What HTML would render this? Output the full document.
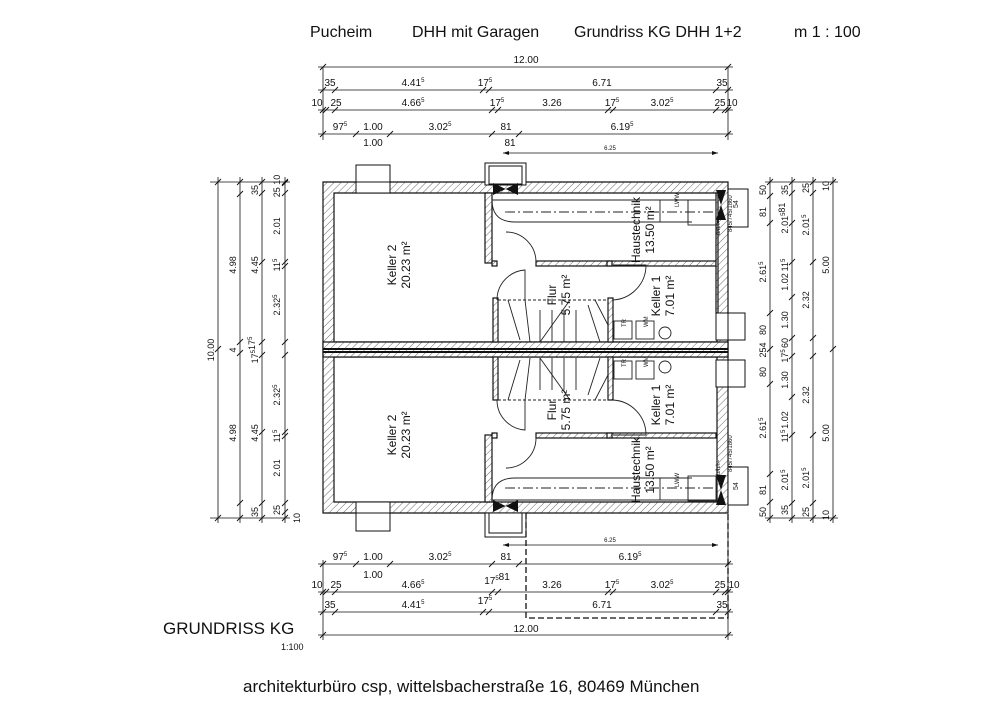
<!DOCTYPE html>
<html><head><meta charset="utf-8"><style>
html,body{margin:0;padding:0;background:#fff;}
svg{display:block;font-family:"Liberation Sans",sans-serif;}
</style></head><body>
<svg width="1000" height="707" viewBox="0 0 1000 707" xmlns="http://www.w3.org/2000/svg">
<defs>
<pattern id="h" width="5" height="5" patternUnits="userSpaceOnUse" patternTransform="rotate(45)">
<rect width="5" height="5" fill="#fff"/><line x1="0" y1="0" x2="0" y2="5" stroke="#444" stroke-width="0.8"/></pattern>
</defs>
<g fill="#111">
<text x="310" y="37" font-size="16">Pucheim</text>
<text x="412" y="37" font-size="16">DHH mit Garagen</text>
<text x="574" y="37" font-size="16">Grundriss KG DHH 1+2</text>
<text x="794" y="37" font-size="16">m 1 : 100</text>
<text x="163" y="634" font-size="17">GRUNDRISS KG</text>
<text x="281" y="650" font-size="9">1:100</text>
<text x="243" y="692" font-size="17">architekturbüro csp, wittelsbacherstraße 16, 80469 München</text>
</g>

<!-- Walls -->
<g stroke="#111" stroke-width="1.2">
<path fill="url(#h)" fill-rule="evenodd" d="M323 182H728V513H323Z M334 193H717V342H334Z M334 357H717V502H334Z"/>
<rect x="323" y="342" width="405" height="15" fill="url(#h)"/>
<line x1="323" y1="349" x2="728" y2="349" stroke-width="2"/>
<line x1="323" y1="352" x2="728" y2="352" stroke-width="2"/>
<rect x="485" y="193" width="7" height="70" fill="url(#h)"/>
<rect x="536" y="261" width="180" height="5" fill="url(#h)"/>
<rect x="493" y="298" width="5" height="44" fill="url(#h)"/>
<rect x="608" y="298" width="5" height="44" fill="url(#h)"/>
<rect x="716" y="193" width="2" height="120" fill="url(#h)"/>
<rect x="485" y="435" width="7" height="67" fill="url(#h)"/>
<rect x="536" y="433" width="180" height="5" fill="url(#h)"/>
<rect x="493" y="357" width="5" height="43" fill="url(#h)"/>
<rect x="608" y="357" width="5" height="43" fill="url(#h)"/>
<rect x="492" y="261" width="5" height="5" fill="url(#h)"/>
<rect x="607" y="261" width="5" height="5" fill="url(#h)"/>
<rect x="492" y="433" width="5" height="5" fill="url(#h)"/>
<rect x="607" y="433" width="5" height="5" fill="url(#h)"/>
</g>

<g stroke="#111" stroke-width="1" fill="#fff">
<rect x="356" y="165" width="34" height="17"/><rect x="356" y="182" width="34" height="11"/>
<rect x="356" y="513" width="34" height="18"/><rect x="356" y="502" width="34" height="11"/>
<rect x="485" y="163" width="41" height="22"/><rect x="489" y="166" width="33" height="18"/>
<rect x="485" y="513" width="41" height="24"/><rect x="489" y="513" width="33" height="20"/>
<rect x="728" y="189" width="20" height="38"/>
<rect x="728" y="467" width="20" height="38"/>
<rect x="718" y="313" width="27" height="27"/><rect x="718" y="360" width="27" height="27"/>
<rect x="716" y="313" width="12" height="27" fill="#fff"/><rect x="716" y="360" width="12" height="27" fill="#fff"/>
</g>
<g fill="#111">
<path d="M493 183 L518 195 L518 183 L493 195Z"/>
<path d="M493 500 L518 512 L518 500 L493 512Z"/>
<path d="M716 475 L726 475 L721 490Z M716 505 L726 505 L721 490Z"/>
<path d="M716 190 L726 190 L721 205Z M716 220 L726 220 L721 205Z"/>
</g>
<g font-size="7" fill="#222"><text x="734" y="212" transform="rotate(-90 734 208)">54</text><text x="734" y="494" transform="rotate(-90 734 490)">54</text></g>

<g stroke="#222" stroke-width="0.9" fill="none">
<path d="M497 300 A30 30 0 0 1 525 270 L525 300"/>
<path d="M497 400 A30 30 0 0 0 525 430 L525 400"/>
<path d="M506 232 A30 30 0 0 1 536 262"/>
<path d="M506 468 A30 30 0 0 0 536 438"/>
<path d="M613 300 A35 35 0 0 0 646 265 L613 265"/>
<path d="M613 400 A35 35 0 0 1 646 435 L613 435"/>
<path d="M492 200 Q492 222 515 222 L692 222"/>
<path d="M492 500 Q492 478 515 478 L692 478"/>
<line x1="492" y1="200" x2="716" y2="200"/><line x1="492" y1="500" x2="716" y2="500"/>
<path d="M505 212 H716" stroke-dasharray="10 3 2 3"/>
<path d="M505 488 H716" stroke-dasharray="10 3 2 3"/>
<rect x="660" y="200" width="28" height="22"/><rect x="688" y="200" width="28" height="25"/>
<rect x="660" y="478" width="28" height="22"/><rect x="688" y="476" width="28" height="25"/>
<rect x="498" y="300" width="110" height="42" stroke-dasharray="3 2"/>
<rect x="498" y="357" width="110" height="43" stroke-dasharray="3 2"/>
<path d="M508 300 L520 340 M525 300 L530 342 M540 310 L540 342 M552 310 L552 342 M564 310 L564 342 M576 310 L576 342 M588 305 L600 342 M595 300 L608 325"/>
<path d="M508 400 L520 360 M525 400 L530 358 M540 390 L540 358 M552 390 L552 358 M564 390 L564 358 M576 390 L576 358 M588 395 L600 358 M595 400 L608 375"/>
<line x1="540" y1="342" x2="570" y2="300"/><line x1="540" y1="358" x2="570" y2="400"/>
<rect x="614" y="321" width="18" height="18"/><rect x="636" y="321" width="18" height="18"/>
<rect x="614" y="361" width="18" height="18"/><rect x="636" y="361" width="18" height="18"/>
<circle cx="665" cy="333" r="6"/><circle cx="665" cy="367" r="6"/>
</g>
<g font-size="6" fill="#222">
<text x="626" y="333" transform="rotate(-90 623 330)">TR</text><text x="648" y="333" transform="rotate(-90 645 330)">WM</text>
<text x="626" y="373" transform="rotate(-90 623 370)">TR</text><text x="648" y="373" transform="rotate(-90 645 370)">WM</text>
<text x="678" y="216" transform="rotate(-90 674 211)">LWW</text><text x="678" y="496" transform="rotate(-90 674 491)">LWW</text>
<text x="710" y="255" transform="rotate(-90 705 240)">b/h/t=</text><text x="718" y="262" transform="rotate(-90 710 240)">845/745/1860</text>
<text x="710" y="495" transform="rotate(-90 705 480)">b/h/t=</text><text x="718" y="502" transform="rotate(-90 710 480)">845/745/1860</text>
</g>

<g font-size="12" fill="#111" text-anchor="middle">
<g transform="translate(396,265) rotate(-90)"><text y="0">Keller 2</text><text y="14">20.23 m²</text></g>
<g transform="translate(396,435) rotate(-90)"><text y="0">Keller 2</text><text y="14">20.23 m²</text></g>
<g transform="translate(556,295) rotate(-90)"><text y="0">Flur</text><text y="14">5.75 m²</text></g>
<g transform="translate(556,410) rotate(-90)"><text y="0">Flur</text><text y="14">5.75 m²</text></g>
<g transform="translate(660,296) rotate(-90)"><text y="0">Keller 1</text><text y="14">7.01 m²</text></g>
<g transform="translate(660,405) rotate(-90)"><text y="0">Keller 1</text><text y="14">7.01 m²</text></g>
<g transform="translate(640,230) rotate(-90)"><text y="0">Haustechnik</text><text y="14">13.50 m²</text></g>
<g transform="translate(640,470) rotate(-90)"><text y="0">Haustechnik</text><text y="14">13.50 m²</text></g>
</g>

<g stroke="#111" stroke-width="0.8" fill="none">
<line x1="318" y1="67" x2="733" y2="67"/><line x1="318" y1="90" x2="733" y2="90"/>
<line x1="318" y1="110" x2="733" y2="110"/><line x1="318" y1="134" x2="733" y2="134"/>
<line x1="323" y1="67" x2="323" y2="140"/><line x1="728" y1="67" x2="728" y2="140"/>
<line x1="318" y1="564" x2="733" y2="564"/><line x1="318" y1="592" x2="733" y2="592"/>
<line x1="318" y1="612" x2="733" y2="612"/><line x1="318" y1="635" x2="733" y2="635"/>
<line x1="323" y1="560" x2="323" y2="640"/><line x1="728" y1="520" x2="728" y2="640"/>
<line x1="503" y1="153" x2="718" y2="153"/><line x1="503" y1="545" x2="718" y2="545"/>
<line x1="218" y1="177" x2="218" y2="523"/><line x1="240" y1="177" x2="240" y2="523"/>
<line x1="262" y1="177" x2="262" y2="523"/><line x1="285" y1="177" x2="285" y2="523"/>
<line x1="210" y1="182" x2="290" y2="182"/><line x1="210" y1="518" x2="290" y2="518"/>
<line x1="770" y1="177" x2="770" y2="523"/><line x1="792" y1="177" x2="792" y2="523"/>
<line x1="813" y1="177" x2="813" y2="523"/><line x1="833" y1="177" x2="833" y2="523"/>
<line x1="765" y1="182" x2="838" y2="182"/><line x1="765" y1="518" x2="838" y2="518"/>
<path d="M526 513 V618 H728 V513" stroke-dasharray="6 3" stroke-width="1.3"/>
</g>
<g fill="#111"><path d="M503 153 l6 -2 v4Z M718 153 l-6 -2 v4Z M503 545 l6 -2 v4Z M718 545 l-6 -2 v4Z"/></g>
<g stroke="#111" stroke-width="0.9">
<path d="M320 70 l6 -6 M725 70 l6 -6 M320 93 l6 -6 M332 93 l6 -6 M480 93 l6 -6 M486 93 l6 -6 M713 93 l6 -6 M725 93 l6 -6
M320 113 l6 -6 M323 113 l6 -6 M332 113 l6 -6 M489 113 l6 -6 M495 113 l6 -6 M605 113 l6 -6 M610 113 l6 -6 M713 113 l6 -6 M722 113 l6 -6 M725 113 l6 -6
M320 137 l6 -6 M353 137 l6 -6 M387 137 l6 -6 M489 137 l6 -6 M516 137 l6 -6 M725 137 l6 -6
M320 567 l6 -6 M353 567 l6 -6 M387 567 l6 -6 M489 567 l6 -6 M516 567 l6 -6 M725 567 l6 -6
M320 595 l6 -6 M323 595 l6 -6 M332 595 l6 -6 M489 595 l6 -6 M495 595 l6 -6 M605 595 l6 -6 M610 595 l6 -6 M713 595 l6 -6 M722 595 l6 -6 M725 595 l6 -6
M320 615 l6 -6 M332 615 l6 -6 M480 615 l6 -6 M486 615 l6 -6 M713 615 l6 -6 M725 615 l6 -6 M320 638 l6 -6 M725 638 l6 -6"/>
<path d="M215 185 l6 -6 M237 185 l6 -6 M259 185 l6 -6 M282 185 l6 -6 M237 197 l6 -6 M259 196 l6 -6 M282 186 l6 -6 M282 196 l6 -6
M259 265 l6 -6 M282 265 l6 -6 M282 269 l6 -6 M237 345 l6 -6 M259 345 l6 -6 M282 345 l6 -6 M215 352 l6 -6 M237 356 l6 -6 M259 358 l6 -6 M282 358 l6 -6
M259 435 l6 -6 M282 435 l6 -6 M282 439 l6 -6 M237 506 l6 -6 M259 506 l6 -6 M282 506 l6 -6 M282 515 l6 -6 M215 521 l6 -6 M237 521 l6 -6 M259 521 l6 -6 M282 521 l6 -6"/>
<path d="M767 185 l6 -6 M789 185 l6 -6 M810 185 l6 -6 M830 185 l6 -6 M767 199 l6 -6 M767 226 l6 -6 M789 196 l6 -6 M810 196 l6 -6 M789 226 l6 -6
M789 265 l6 -6 M810 265 l6 -6 M767 316 l6 -6 M789 300 l6 -6 M789 341 l6 -6 M810 341 l6 -6 M767 352 l6 -6 M830 352 l6 -6 M789 359 l6 -6 M810 359 l6 -6 M767 387 l6 -6 M789 400 l6 -6
M789 438 l6 -6 M810 438 l6 -6 M767 477 l6 -6 M767 505 l6 -6 M789 506 l6 -6 M810 506 l6 -6 M767 521 l6 -6 M789 521 l6 -6 M810 521 l6 -6 M830 521 l6 -6"/>
</g>
<g font-size="10" fill="#111" text-anchor="middle">
<text x="526" y="63">12.00</text>
<text x="330" y="86">35</text><text x="413" y="86">4.41<tspan font-size="6" dy="-4">5</tspan></text><text x="485" y="86">17<tspan font-size="6" dy="-4">5</tspan></text><text x="602" y="86">6.71</text><text x="722" y="86">35</text>
<text x="317" y="106">10</text><text x="336" y="106">25</text><text x="413" y="106">4.66<tspan font-size="6" dy="-4">5</tspan></text><text x="497" y="106">17<tspan font-size="6" dy="-4">5</tspan></text><text x="552" y="106">3.26</text><text x="612" y="106">17<tspan font-size="6" dy="-4">5</tspan></text><text x="662" y="106">3.02<tspan font-size="6" dy="-4">5</tspan></text><text x="720" y="106">25</text><text x="732" y="106">10</text>
<text x="340" y="130">97<tspan font-size="6" dy="-4">5</tspan></text><text x="373" y="130">1.00</text><text x="440" y="130">3.02<tspan font-size="6" dy="-4">5</tspan></text><text x="506" y="130">81</text><text x="622" y="130">6.19<tspan font-size="6" dy="-4">5</tspan></text>
<text x="373" y="146">1.00</text><text x="510" y="146">81</text>
<text x="610" y="150" font-size="6">6.25</text>
<text x="610" y="542" font-size="6">6.25</text>
<text x="340" y="560">97<tspan font-size="6" dy="-4">5</tspan></text><text x="373" y="560">1.00</text><text x="440" y="560">3.02<tspan font-size="6" dy="-4">5</tspan></text><text x="506" y="560">81</text><text x="630" y="560">6.19<tspan font-size="6" dy="-4">5</tspan></text>
<text x="373" y="578">1.00</text>
<text x="317" y="588">10</text><text x="336" y="588">25</text><text x="413" y="588">4.66<tspan font-size="6" dy="-4">5</tspan></text><text x="497" y="584">17<tspan font-size="6" dy="-4">5</tspan>81</text><text x="552" y="588">3.26</text><text x="612" y="588">17<tspan font-size="6" dy="-4">5</tspan></text><text x="662" y="588">3.02<tspan font-size="6" dy="-4">5</tspan></text><text x="720" y="588">25</text><text x="734" y="588">10</text>
<text x="330" y="608">35</text><text x="413" y="608">4.41<tspan font-size="6" dy="-4">5</tspan></text><text x="485" y="604">17<tspan font-size="6" dy="-4">5</tspan></text><text x="602" y="608">6.71</text><text x="722" y="608">35</text>
<text x="526" y="632">12.00</text>
</g>
<g font-size="9" fill="#111" text-anchor="middle">
<text transform="translate(214,350) rotate(-90)">10.00</text>
<text transform="translate(236,265) rotate(-90)">4.98</text><text transform="translate(236,433) rotate(-90)">4.98</text>
<text transform="translate(236,350) rotate(-90)">4</text>
<text transform="translate(258,190) rotate(-90)">35</text><text transform="translate(258,265) rotate(-90)">4.45</text><text transform="translate(258,350) rotate(-90)">17<tspan font-size="6" dy="-3">5</tspan>17<tspan font-size="6" dy="-3">5</tspan></text><text transform="translate(258,433) rotate(-90)">4.45</text><text transform="translate(258,512) rotate(-90)">35</text>
<text transform="translate(280,186) rotate(-90)">25 10</text><text transform="translate(280,226) rotate(-90)">2.01</text><text transform="translate(280,265) rotate(-90)">11<tspan font-size="6" dy="-3">5</tspan></text><text transform="translate(280,305) rotate(-90)">2.32<tspan font-size="6" dy="-3">5</tspan></text><text transform="translate(280,395) rotate(-90)">2.32<tspan font-size="6" dy="-3">5</tspan></text><text transform="translate(280,436) rotate(-90)">11<tspan font-size="6" dy="-3">5</tspan></text><text transform="translate(280,468) rotate(-90)">2.01</text><text transform="translate(280,510) rotate(-90)">25</text>
<text transform="translate(300,518) rotate(-90)">10</text>
<text transform="translate(766,190) rotate(-90)">50</text><text transform="translate(766,212) rotate(-90)">81</text><text transform="translate(766,272) rotate(-90)">2.61<tspan font-size="6" dy="-3">5</tspan></text><text transform="translate(766,330) rotate(-90)">80</text><text transform="translate(766,350) rotate(-90)">254</text><text transform="translate(766,372) rotate(-90)">80</text><text transform="translate(766,428) rotate(-90)">2.61<tspan font-size="6" dy="-3">5</tspan></text><text transform="translate(766,490) rotate(-90)">81</text><text transform="translate(766,512) rotate(-90)">50</text>
<text transform="translate(788,190) rotate(-90)">35</text><text transform="translate(788,218) rotate(-90)">2.01<tspan font-size="6" dy="-3">5</tspan>81</text><text transform="translate(788,265) rotate(-90)">11<tspan font-size="6" dy="-3">5</tspan></text><text transform="translate(788,282) rotate(-90)">1.02</text><text transform="translate(788,320) rotate(-90)">1.30</text><text transform="translate(788,343) rotate(-90)">60</text><text transform="translate(788,356) rotate(-90)">17<tspan font-size="6" dy="-3">5</tspan></text><text transform="translate(788,380) rotate(-90)">1.30</text><text transform="translate(788,420) rotate(-90)">1.02</text><text transform="translate(788,436) rotate(-90)">11<tspan font-size="6" dy="-3">5</tspan></text><text transform="translate(788,480) rotate(-90)">2.01<tspan font-size="6" dy="-3">5</tspan></text><text transform="translate(788,510) rotate(-90)">35</text>
<text transform="translate(809,188) rotate(-90)">25</text><text transform="translate(809,225) rotate(-90)">2.01<tspan font-size="6" dy="-3">5</tspan></text><text transform="translate(809,300) rotate(-90)">2.32</text><text transform="translate(809,395) rotate(-90)">2.32</text><text transform="translate(809,478) rotate(-90)">2.01<tspan font-size="6" dy="-3">5</tspan></text><text transform="translate(809,512) rotate(-90)">25</text>
<text transform="translate(829,186) rotate(-90)">10</text><text transform="translate(829,265) rotate(-90)">5.00</text><text transform="translate(829,433) rotate(-90)">5.00</text><text transform="translate(829,515) rotate(-90)">10</text>
</g>
</svg>
</body></html>
